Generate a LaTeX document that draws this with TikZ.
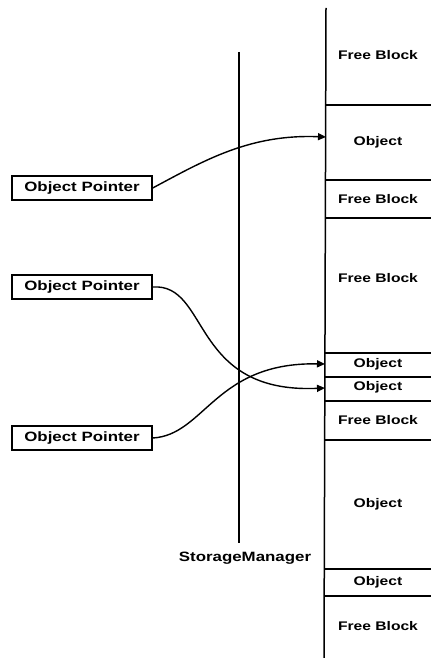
\documentclass[tikz,border=0pt]{standalone}
\usepackage{fontspec}
\newfontfamily\labfont[FakeStretch=1.25]{Liberation Sans}
\usetikzlibrary{arrows.meta}
\begin{document}
\begin{tikzpicture}[x=1pt,y=-1pt,
  line/.style={line width=1.5pt,black},
  lab/.style={font=\labfont\bfseries\fontsize{12.5}{14}\selectfont,inner sep=0pt},
  ptr/.style={draw,line width=1.4pt,minimum width=140pt,minimum height=24pt,inner sep=0pt,font=\labfont\bfseries\fontsize{13.5}{15}\selectfont},
  conn/.style={line width=1.4pt,-{Triangle[length=8pt,width=7pt]}}]
\useasboundingbox (0,0) rectangle (431,658);
% memory column
\draw[line] (326,8) -- (324,658);
\foreach \yy in {105,180,218,353,377,401,440,569,596}
  \draw[line] (325,\yy) -- (431,\yy);
\node[lab] (f1) at (378,55) {Free Block};
\node[lab] (o1) at (378,142) {Object};
\node[lab] (f2) at (378,199) {Free Block};
\node[lab] (f3) at (378,278) {Free Block};
\node[lab] (o2) at (378,364) {Object};
\node[lab] (o3) at (378,387) {Object};
\node[lab] (f4) at (378,420) {Free Block};
\node[lab] (o4) at (378,504) {Object};
\node[lab] (o5) at (378,582) {Object};
\node[lab] (f5) at (378,626) {Free Block};
% storage manager
\draw[line] (239,52) -- (239,543);
\node[lab,font=\labfont\bfseries\fontsize{13.5}{15}\selectfont] (sm) at (245,558) {StorageManager};
% pointers
\node[ptr] (p1) at (82,188) {Object Pointer};
\node[ptr] (p2) at (82,287) {Object Pointer};
\node[ptr] (p3) at (82,438) {Object Pointer};
\coordinate (t1) at (326,137);
\coordinate (t2) at (325,364);
\coordinate (t3) at (325,388);
\draw[conn] (p1.east) .. controls (205,160) and (250,134) .. (t1);
\draw[conn] (p2.east) .. controls (210,283) and (190,394) .. (t3);
\draw[conn] (p3.east) .. controls (205,435) and (215,362) .. (t2);
\end{tikzpicture}
\end{document}
